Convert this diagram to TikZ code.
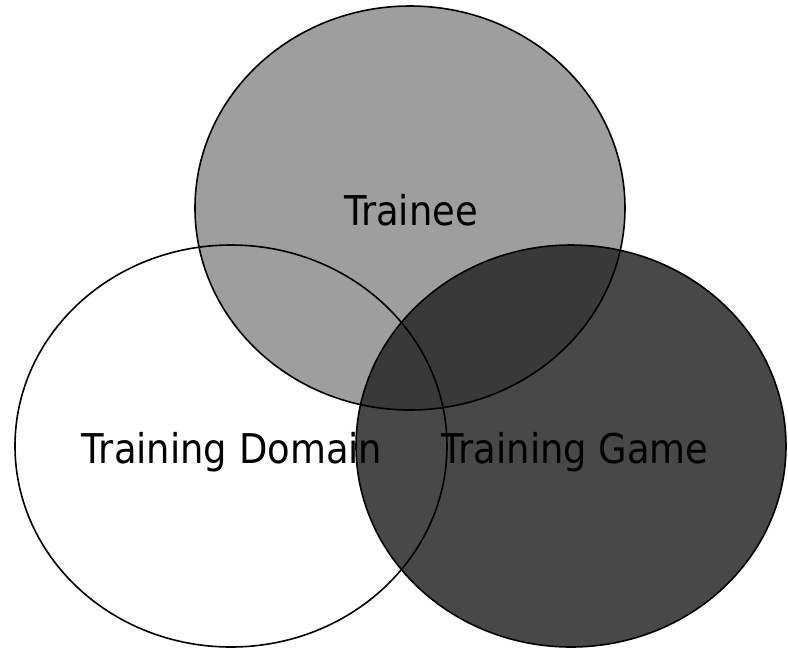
\documentclass[tikz,border=0pt]{standalone}
\usepackage{fontspec}
\newfontfamily\lblfont[FakeStretch=0.9]{DejaVu Sans}
\begin{document}
\begin{tikzpicture}[x=1pt,y=-1pt,
  venn/.style={draw=black,line width=1.6pt},
  lbl/.style={font=\lblfont\fontsize{41}{41}\selectfont,text=black,anchor=base,inner sep=0pt}]
\useasboundingbox (0,0) rectangle (788,649);
\fill[white] (0,0) rectangle (788,649);
% fills
\fill[white] (231,446) ellipse [x radius=216, y radius=201];
\fill[black!38] (410,208) ellipse [x radius=215, y radius=202];
\fill[black!85,opacity=0.84] (571,446) ellipse [x radius=215, y radius=201];
% outlines
\draw[venn] (231,446) ellipse [x radius=216, y radius=201];
\draw[venn] (410,208) ellipse [x radius=215, y radius=202];
\draw[venn] (571,446) ellipse [x radius=215, y radius=201];
% labels
\node[lbl] (trainee) at (411,225) {Trainee};
\node[lbl] (domain) at (232,463) {Training Domain};
\node[lbl] (game) at (575,463) {Training Game};
\end{tikzpicture}
\end{document}
